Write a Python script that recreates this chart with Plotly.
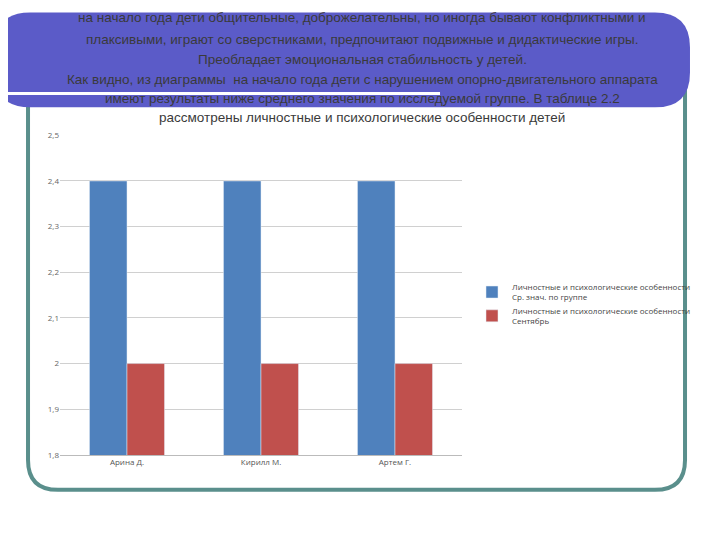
import plotly.graph_objects as go

categories = ["Арина Д.", "Кирилл М.", "Артем Г."]
s1_name = "Личностные и психологические особенности<br>Ср. знач. по группе"
s2_name = "Личностные и психологические особенности<br>Сентябрь"
s1 = [2.4, 2.4, 2.4]
s2 = [2.0, 2.0, 2.0]
yticks = [1.8, 1.9, 2.0, 2.1, 2.2, 2.3, 2.4, 2.5]
yticklabels = ["1,8", "1,9", "2", "2,1", "2,2", "2,3", "2,4", "2,5"]

W, H = 720, 540
def px(x): return (x - 8) / W
def py(y): return 1 - ((y - 13.5) / 0.981) / H

def rrect(x0, y0, x1, y1, r):
    def P(x, y): return f"{px(x):.4f},{py(y):.4f}"
    return (f"M {P(x0+r,y0)} L {P(x1-r,y0)} Q {P(x1,y0)} {P(x1,y0+r)} "
            f"L {P(x1,y1-r)} Q {P(x1,y1)} {P(x1-r,y1)} L {P(x0+r,y1)} "
            f"Q {P(x0,y1)} {P(x0,y1-r)} L {P(x0,y0+r)} Q {P(x0,y0)} {P(x0+r,y0)} Z")

fig = go.Figure()
fig.add_bar(x=categories, y=s1, name=s1_name, marker_color="#4f81bd")
fig.add_bar(x=categories, y=s2, name=s2_name, marker_color="#c0504d")

shapes = [
    dict(type="path", path=rrect(28, 60, 685, 490, 30), xref="paper", yref="paper",
         line=dict(color="#5a8f8c", width=4), fillcolor="rgba(0,0,0,0)", layer="below"),
    dict(type="path", path=rrect(-5, 12, 690, 107, 35), xref="paper", yref="paper",
         line=dict(width=0), fillcolor="#5b5bc8", layer="below"),
    dict(type="line", x0=px(-5), x1=px(440), y0=py(93), y1=py(93), xref="paper", yref="paper",
         line=dict(color="white", width=3)),
]

lines = [
    ("на начало года дети общительные, доброжелательны, но иногда бывают конфликтными и", 17),
    ("плаксивыми, играют со сверстниками, предпочитают подвижные и дидактические игры.", 39),
    ("Преобладает эмоциональная стабильность у детей.", 59),
    ("Как видно, из диаграммы  на начало года дети с нарушением опорно-двигательного аппарата", 79),
    ("имеют результаты ниже среднего значения по исследуемой группе. В таблице 2.2", 98),
    ("рассмотрены личностные и психологические особенности детей", 117),
]
annotations = [dict(text=t, x=px(362), y=py(y), xref="paper", yref="paper",
                    showarrow=False, font=dict(size=13.5, color="#3a3a3a",
                    family="Liberation Sans"), xanchor="center", yanchor="middle")
               for t, y in lines]

fig.update_layout(
    width=W, height=H, margin=dict(l=0, r=0, t=0, b=0),
    paper_bgcolor="white", plot_bgcolor="white",
    barmode="group", bargap=0.44, bargroupgap=0,
    font=dict(family="Open Sans", size=8, color="#555"),
    xaxis=dict(domain=[px(60), px(462)], showline=True, linecolor="#bbb",
               tickfont=dict(size=8), ticks=""),
    yaxis=dict(domain=[py(455), py(135)], range=[1.8, 2.5], tickvals=yticks,
               ticktext=yticklabels, showgrid=True, gridcolor="#d0d0d0",
               tickfont=dict(size=8, color="#666"), zeroline=False),
    legend=dict(x=px(472), y=py(275), xanchor="left", yanchor="top",
                font=dict(size=8, color="#444"), tracegroupgap=8,
                bgcolor="rgba(0,0,0,0)"),
    shapes=shapes, annotations=annotations,
)
fig.write_html("out.html")
